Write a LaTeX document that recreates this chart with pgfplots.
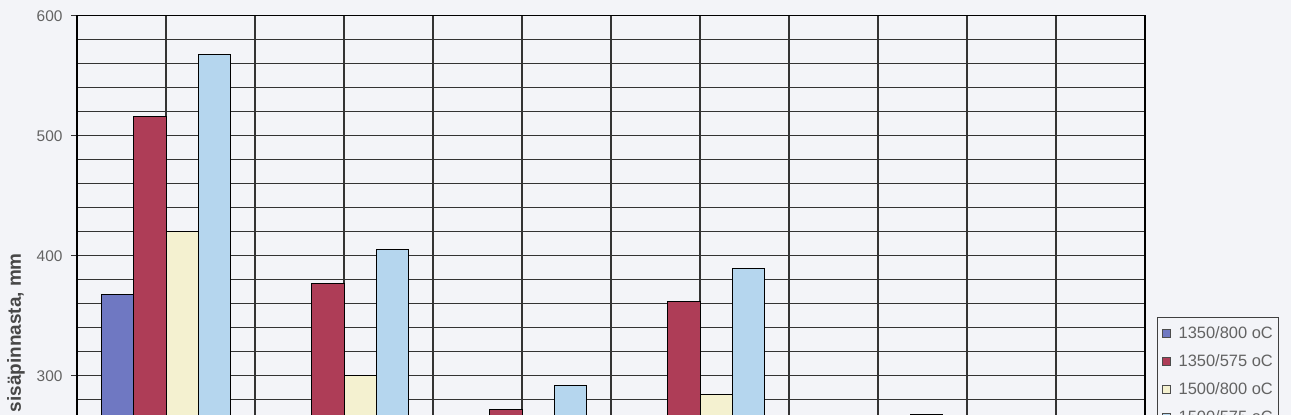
\documentclass[border=0pt]{standalone}
\usepackage{fontspec}
\setmainfont{Liberation Sans}
\usepackage{pgfplots}
\pgfplotsset{compat=1.18}
\definecolor{paper}{HTML}{F3F4F8}
\definecolor{sA}{HTML}{6F78C2}
\definecolor{sB}{HTML}{AE3D57}
\definecolor{sC}{HTML}{F4F1D0}
\definecolor{sD}{HTML}{B5D6EE}
\definecolor{gridc}{HTML}{333333}
\definecolor{txt}{HTML}{636363}

\begin{document}
\begin{tikzpicture}
\fill[paper] (0,0) rectangle (1291bp,415bp);
\begin{axis}[
    at={(77bp,399.3bp)}, anchor=north west,
    scale only axis,
    width=1068bp, height=408bp,
    xmin=-0.5, xmax=5.5,
    ymin=260, ymax=600,
    ybar=0pt, bar width=32.3bp,
    xtick={-0.5,0,...,5.5},
    xticklabels={},
    x tick style={draw=none},
    ytick={300,400,500,600},
    minor ytick={280,320,340,360,380,420,440,460,480,520,540,560,580},
    xmajorgrids, ymajorgrids, yminorgrids,
    grid style={gridc, line width=1.3bp},
    major grid style={gridc, line width=1.3bp},
    minor grid style={gridc, line width=1.3bp},
    axis line style={black, line width=1.3bp},
    ytick pos=left, tick align=outside,
    major tick length=6bp, minor tick length=0pt,
    y tick style={gridc, line width=1.3bp},
    /pgf/number format/assume math mode=true,
    yticklabel style={font=\fontsize{15.5}{16}\selectfont, text=txt, xshift=-5bp},
    axis background/.style={fill=paper},
    legend cell align=left,
    legend image code/.code={\draw[#1, draw=black!70, line width=0.6bp] (0bp,-3.8bp) rectangle (7.6bp,3.8bp);},
    legend style={
        at={(rel axis cs:1.0112,0.2615)}, anchor=north west,
        draw=black!75, line width=1bp, fill=paper,
        font=\fontsize{16.5}{17}\selectfont, text=txt,
        inner xsep=5bp, inner ysep=9bp,
        row sep=15bp,
        nodes={inner sep=1bp, text height=11bp, text depth=0bp},
        /tikz/every odd column/.append style={column sep=7bp},
    },
]
\addplot[fill=sA, draw=black, line width=0.8bp] coordinates {(0,368)};
\addplot[fill=sB, draw=black, line width=0.8bp] coordinates {(0,516) (1,377) (2,272) (3,362)};
\addplot[fill=sC, draw=black, line width=0.8bp] coordinates {(0,420) (1,300) (3,284)};
\addplot[fill=sD, draw=black, line width=0.8bp] coordinates {(0,568) (1,405) (2,292) (3,389) (4,268)};
\legend{1350/800 oC, 1350/575 oC, 1500/800 oC, 1500/575 oC}
\end{axis}
\node[rotate=90, anchor=east, inner sep=0pt, text=black!72, font=\fontsize{19}{19}\bfseries] at (16bp,162bp) {sisäpinnasta, mm};
\pgfresetboundingbox
\path[use as bounding box] (0,0) rectangle (1291bp,415bp);
\end{tikzpicture}
\end{document}
